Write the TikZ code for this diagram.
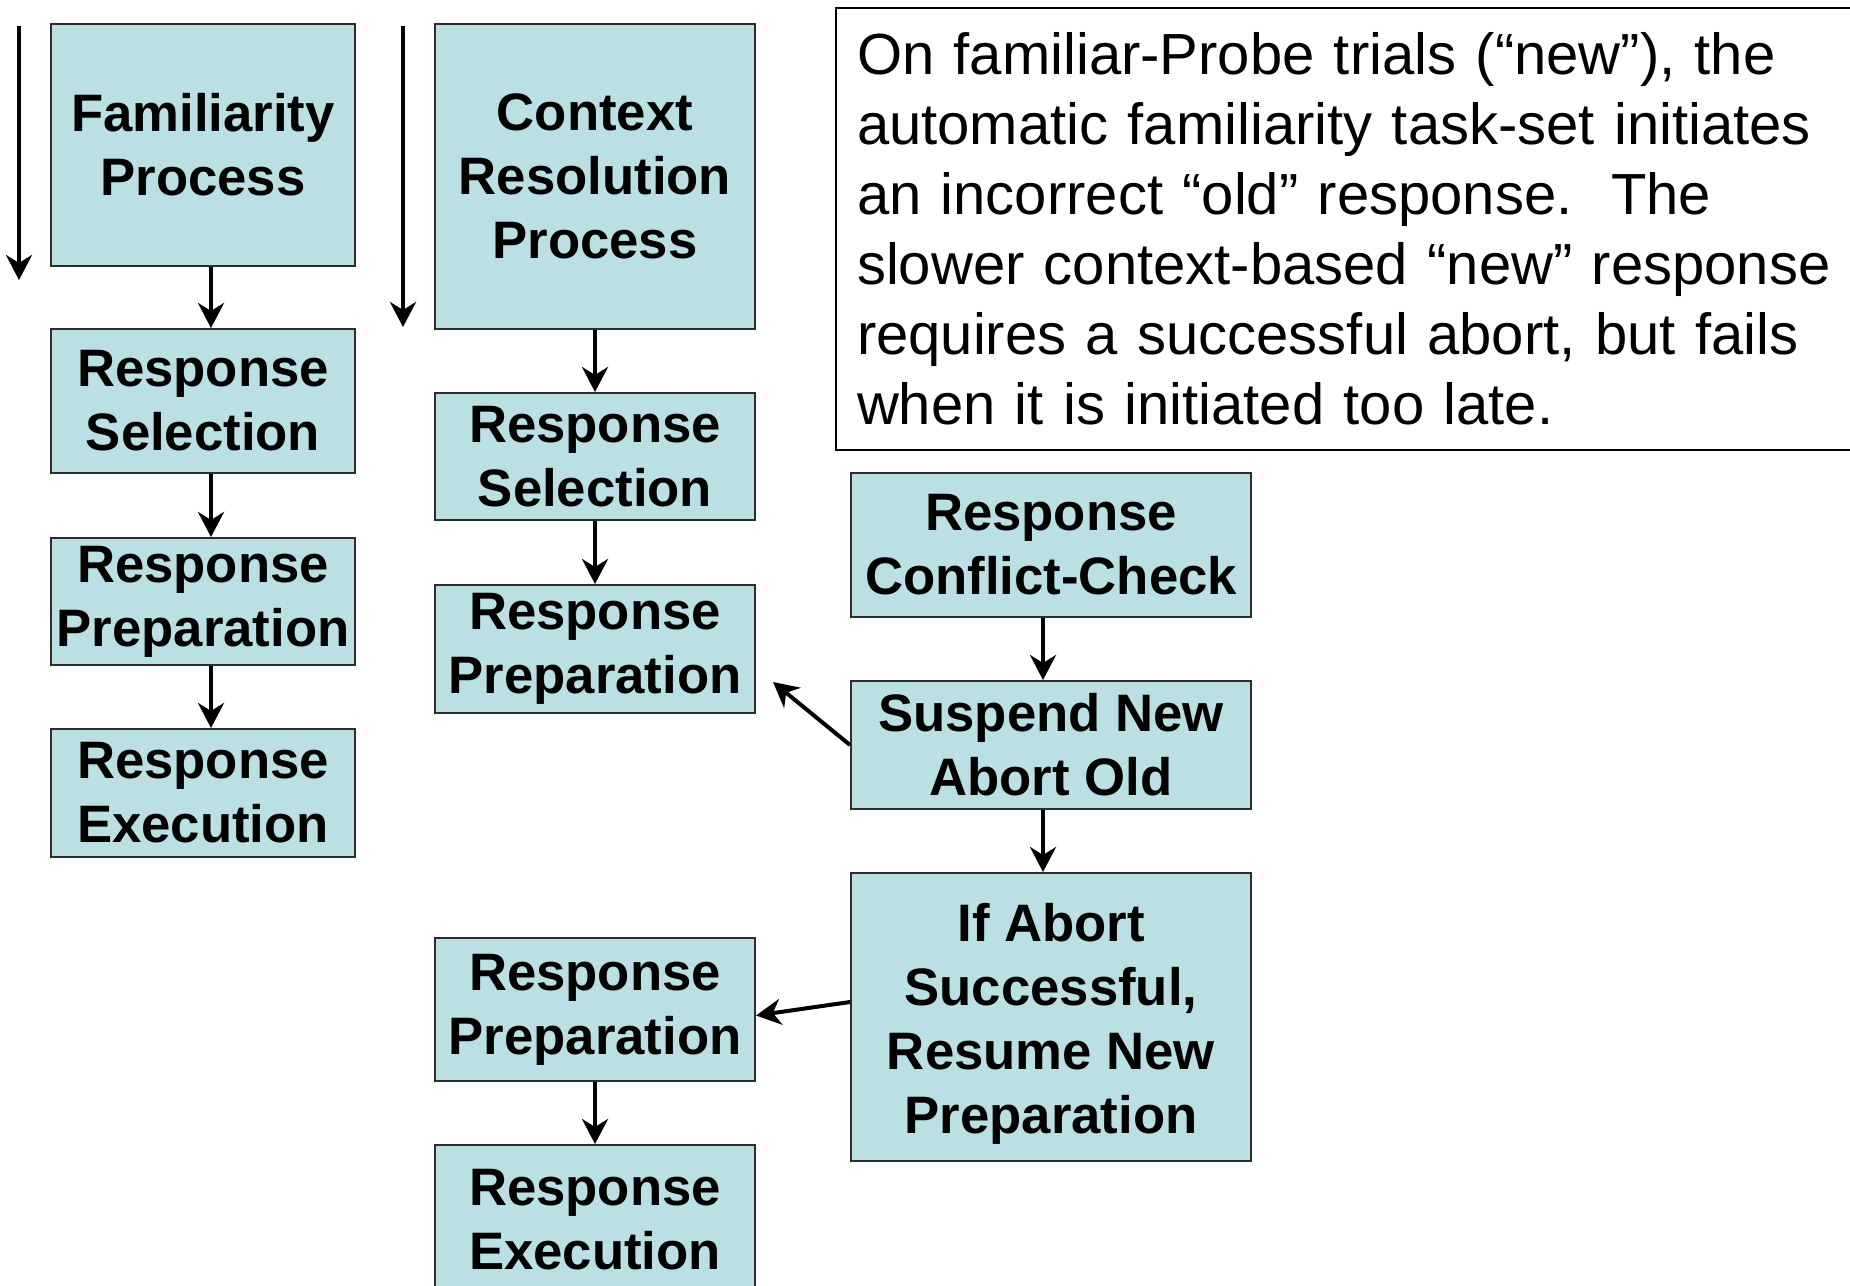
\documentclass[tikz,border=0pt]{standalone}
\usepackage{fontspec}
\setmainfont{Liberation Sans}
\usetikzlibrary{arrows.meta}
\definecolor{boxfill}{RGB}{186,224,228}
\definecolor{boxline}{RGB}{45,45,45}
\begin{document}
\begin{tikzpicture}[x=0.5pt,y=-0.5pt,
  stage/.style={draw=boxline, line width=1pt, fill=boxfill, inner sep=0pt,
    align=center, font=\fontsize{26.35}{32}\selectfont\bfseries},
  leftcol/.style={stage, minimum width=152pt},
  midcol/.style={stage, minimum width=160pt},
  rightcol/.style={stage, minimum width=200pt},
  flow/.style={-{Stealth[length=12.5pt,width=13pt,inset=4pt]}, line width=2pt},
  note/.style={draw=black, line width=1pt, anchor=north west,
    minimum width=520pt, minimum height=221pt, text width=499pt,
    inner xsep=10.5pt, inner ysep=0pt, align=left,
    font=\fontsize{29}{35}\selectfont}]
\useasboundingbox (0,0) rectangle (1850,1285);
\clip (0,0) rectangle (1850,1285);

% time axes
\coordinate (t1s) at (19,26);
\coordinate (t1e) at (19,280);
\coordinate (t2s) at (403,26);
\coordinate (t2e) at (403,327);
\draw[flow] (t1s) -- (t1e);
\draw[flow] (t2s) -- (t2e);

% familiarity route
\node[leftcol, minimum height=121pt] (fam) at (203,145) {Familiarity\\Process};
\node[leftcol, minimum height=72pt] (sel1) at (203,401) {Response\\Selection};
\node[leftcol, minimum height=63.5pt] (prep1) at (203,601.5) {Response\\Preparation};
\node[leftcol, minimum height=64pt] (exec1) at (203,793) {Response\\Execution};

% context route
\node[midcol, minimum height=152.5pt] (ctx) at (595,176.5) {Context\\Resolution\\Process};
\node[midcol, minimum height=63.5pt] (sel2) at (595,456.5) {Response\\Selection};
\node[midcol, minimum height=64pt] (prep2) at (595,649) {Response\\Preparation};
\node[midcol, minimum height=71.5pt] (prep3) at (595,1009.5) {Response\\Preparation};
\node[midcol, minimum height=75pt] (exec3) at (595,1220) {Response\\Execution};

% control route
\node[rightcol, minimum height=72pt] (check) at (1051,545) {Response\\Conflict-Check};
\node[rightcol, minimum height=64pt] (abort) at (1051,745) {Suspend New\\Abort Old};
\node[rightcol, minimum height=144pt] (resume) at (1051,1017)
  {\rule{0pt}{26.2pt}If Abort\\Successful,\\Resume New\\Preparation};

% explanation
\node[note] (text) at (835,7) {On familiar-Probe trials (“new”), the\\
automatic familiarity task-set initiates\\
an incorrect “old” response.\ \ The\\
slower context-based “new” response\\
requires a successful abort, but fails\\
when it is initiated too late.};

% connectors
\draw[flow] ([xshift=4pt]fam.south) -- ([xshift=4pt]sel1.north);
\draw[flow] ([xshift=4pt]sel1.south) -- ([xshift=4pt]prep1.north);
\draw[flow] ([xshift=4pt]prep1.south) -- ([xshift=4pt]exec1.north);
\draw[flow] (ctx.south) -- (sel2.north);
\draw[flow] (sel2.south) -- (prep2.north);
\draw[flow] (prep3.south) -- (exec3.north);
\draw[flow] ([xshift=-4pt]check.south) -- ([xshift=-4pt]abort.north);
\draw[flow] ([xshift=-4pt]abort.south) -- ([xshift=-4pt]resume.north);
\coordinate (backtip) at (773,682);
\draw[flow] (abort.west) -- (backtip);
\draw[flow] ([yshift=7.5pt]resume.west) -- ([yshift=-3pt]prep3.east);
\end{tikzpicture}
\end{document}
